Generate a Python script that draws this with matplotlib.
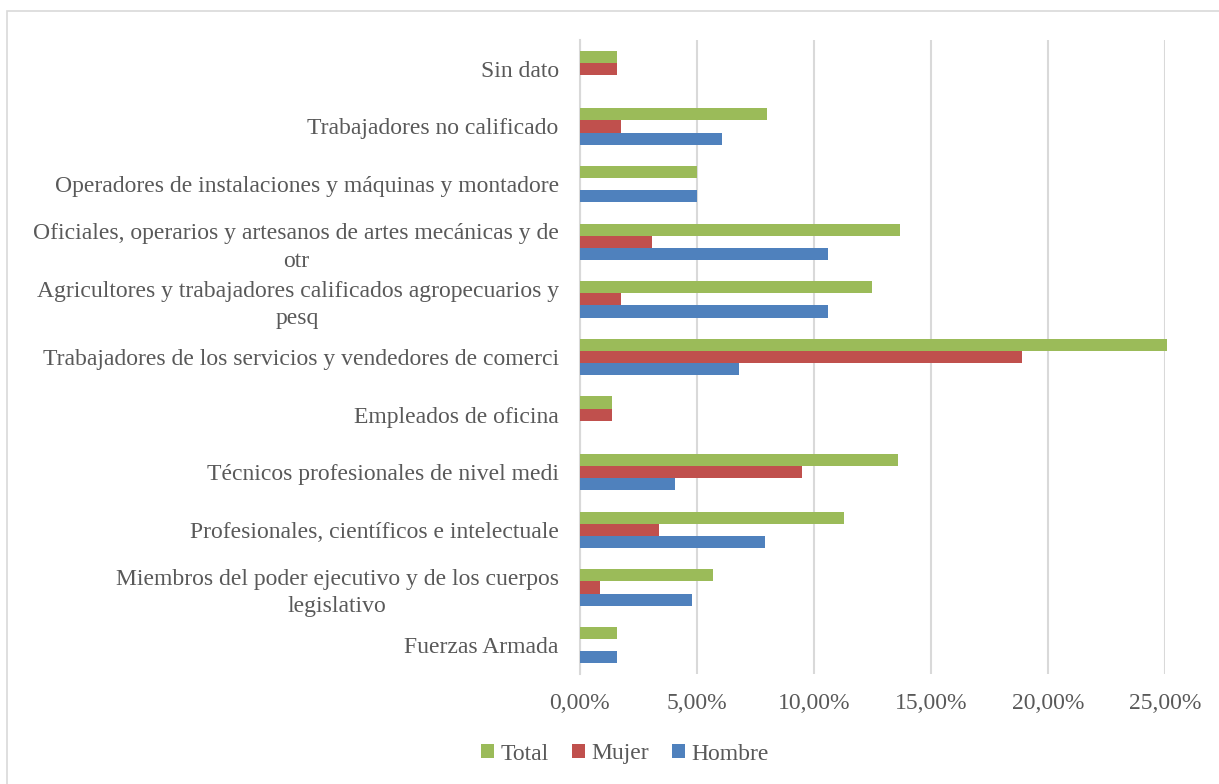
import matplotlib
matplotlib.use("Agg")
import matplotlib.pyplot as plt
from matplotlib.patches import Rectangle
from matplotlib.ticker import FuncFormatter
import numpy as np

categories = [
    "Fuerzas Armada",
    "Miembros del poder ejecutivo y de los cuerpos\nlegislativo",
    "Profesionales, científicos e intelectuale",
    "Técnicos profesionales de nivel medi",
    "Empleados de oficina",
    "Trabajadores de los servicios y vendedores de comerci",
    "Agricultores y trabajadores calificados agropecuarios y\npesq",
    "Oficiales, operarios y artesanos de artes mecánicas y de\notr",
    "Operadores de instalaciones y máquinas y montadore",
    "Trabajadores no calificado",
    "Sin dato",
]
total = [1.59, 5.69, 11.29, 13.60, 1.39, 25.09, 12.50, 13.70, 5.00, 7.99, 1.59]
mujer = [0.00, 0.89, 3.40, 9.50, 1.39, 18.90, 1.79, 3.08, 0.00, 1.79, 1.59]
hombre = [1.59, 4.79, 7.90, 4.09, 0.00, 6.79, 10.60, 10.60, 5.00, 6.10, 0.00]
xticks = [0, 5, 10, 15, 20, 25]

C_TOTAL = "#9BBB59"
C_MUJER = "#C0504D"
C_HOMBRE = "#4F81BD"
TXT = "#595959"

plt.rcParams["font.family"] = ["Liberation Serif", "DejaVu Serif"]

fig = plt.figure(figsize=(12.19, 7.84), dpi=100)
fig.patches.append(Rectangle((7 / 1219, -0.01), 1.02, 1 - 11 / 784 + 0.01,
                             transform=fig.transFigure, fill=False,
                             edgecolor="#D9D9D9", linewidth=1.2, zorder=0))

ax = fig.add_axes([579.5 / 1219, 1 - 674 / 784, (1165 - 579.5) / 1219, (674 - 40) / 784])

y = np.arange(len(categories))
h = 0.21
ax.barh(y + h, total, height=h, color=C_TOTAL, label="Total", zorder=3)
ax.barh(y, mujer, height=h, color=C_MUJER, label="Mujer", zorder=3)
ax.barh(y - h, hombre, height=h, color=C_HOMBRE, label="Hombre", zorder=3)

ax.set_xlim(0, 25)
ax.set_ylim(-0.5, len(categories) - 0.5)
ax.set_xticks(xticks)
ax.xaxis.set_major_formatter(FuncFormatter(lambda v, p: f"{v:.2f}".replace(".", ",") + "%"))
ax.set_yticks(y)
ax.set_yticklabels(categories, multialignment="center", linespacing=1.4)
ax.tick_params(axis="both", length=0, labelsize=17, colors=TXT)
ax.tick_params(axis="x", pad=14)
ax.tick_params(axis="y", pad=15)
ax.grid(axis="x", color="#D9D9D9", linewidth=1.5, zorder=0)
ax.set_axisbelow(True)
for s in ["top", "right", "bottom"]:
    ax.spines[s].set_visible(False)
ax.spines["left"].set_color("#D9D9D9")
ax.spines["left"].set_linewidth(1.5)
for bar in ax.patches:
    bar.set_clip_on(False)

leg = fig.legend(loc="center", bbox_to_anchor=(625 / 1219, 1 - 754 / 784), ncol=3,
                 frameon=False, fontsize=17, handlelength=0.55, handleheight=0.55,
                 handletextpad=0.25, columnspacing=1.0)
for t in leg.get_texts():
    t.set_color(TXT)

fig.savefig("out.png", dpi=100)
